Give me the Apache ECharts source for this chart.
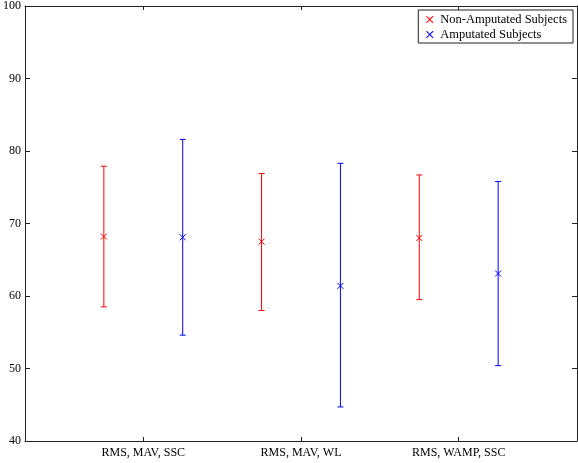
<!DOCTYPE html>
<html><head><meta charset="utf-8">
<script src="https://cdn.jsdelivr.net/npm/echarts@6/dist/echarts.min.js"></script>
<style>html,body{margin:0;padding:0;background:#fff}#c{width:578px;height:463px}</style>
</head><body><div id="c"></div>
<script>
var categories = ['RMS, MAV, SSC', 'RMS, MAV, WL', 'RMS, WAMP, SSC'];
var nonMean = [68.2, 67.5, 68.0];
var nonLow  = [58.5, 58.0, 59.5];
var nonHigh = [77.9, 76.9, 76.7];
var ampMean = [68.1, 61.4, 63.1];
var ampLow  = [54.6, 44.7, 50.4];
var ampHigh = [81.6, 78.3, 75.8];
var yTicks = [40, 50, 60, 70, 80, 90, 100];

var OFFSET = 0.25;
var XPATH = 'path://M0,0L1,0L5,4L9,0L10,0L10,1L6,5L10,9L10,10L9,10L5,6L1,10L0,10L0,9L4,5L0,1Z';
var FONT = 'Liberation Serif';

function build(mean, low, high, off) {
  return mean.map(function (m, i) { return [i + 1 + off, m, low[i], high[i]]; });
}

function errRender(color) {
  return function (params, api) {
    var x = api.value(0);
    var pm = api.coord([x, api.value(1)]);
    var pl = api.coord([x, api.value(2)]);
    var ph = api.coord([x, api.value(3)]);
    var cw = 3, mk = 3;
    var st = { stroke: color, lineWidth: 1 };
    return {
      type: 'group',
      children: [
        { type: 'line', shape: { x1: pl[0], y1: pl[1], x2: ph[0], y2: ph[1] }, style: st },
        { type: 'line', shape: { x1: pl[0] - cw, y1: pl[1], x2: pl[0] + cw, y2: pl[1] }, style: st },
        { type: 'line', shape: { x1: ph[0] - cw, y1: ph[1], x2: ph[0] + cw, y2: ph[1] }, style: st },
        { type: 'line', shape: { x1: pm[0] - mk, y1: pm[1] - mk, x2: pm[0] + mk, y2: pm[1] + mk }, style: st },
        { type: 'line', shape: { x1: pm[0] - mk, y1: pm[1] + mk, x2: pm[0] + mk, y2: pm[1] - mk }, style: st }
      ]
    };
  };
}

var chart = echarts.init(document.getElementById('c'), null, { renderer: 'canvas' });
var axisLine = { show: true, lineStyle: { color: '#222', width: 1 } };
var xCommon = {
  type: 'value', min: 0.25, max: 3.75, interval: 1,
  splitLine: { show: false }, axisLine: axisLine,
  axisTick: { show: true, inside: true, length: 4, lineStyle: { color: '#222' }, customValues: [1, 2, 3] }
};
var yCommon = {
  type: 'value', min: 40, max: 100, interval: 10,
  splitLine: { show: false }, axisLine: axisLine,
  axisTick: { show: true, inside: true, length: 5, lineStyle: { color: '#222' } }
};
chart.setOption({
  animation: false,
  backgroundColor: '#fff',
  grid: { left: 23, right: 1, top: 4, bottom: 22, containLabel: false },
  xAxis: [
    Object.assign({}, xCommon, {
      position: 'bottom',
      axisLabel: {
        show: true, fontFamily: FONT, fontSize: 12, color: '#000', margin: 6,
        customValues: [1, 2, 3],
        formatter: function (v) { return categories[Math.round(v) - 1] || ''; }
      }
    }),
    Object.assign({}, xCommon, { position: 'top', axisLabel: { show: false } })
  ],
  yAxis: [
    Object.assign({}, yCommon, {
      position: 'left',
      axisLabel: { show: true, fontFamily: FONT, fontSize: 12, color: '#000', margin: 4,
        formatter: function (v) { return yTicks.indexOf(v) >= 0 ? String(v) : ''; } }
    }),
    Object.assign({}, yCommon, { position: 'right', axisLabel: { show: false } })
  ],
  legend: {
    right: 5, top: 10, orient: 'vertical',
    backgroundColor: '#fff', borderColor: '#222', borderWidth: 1,
    padding: [3, 6, 2, 8], itemGap: 2, itemWidth: 7, itemHeight: 7,
    textStyle: { fontFamily: FONT, fontSize: 12.5, color: '#000', padding: [0, 0, 0, 2] },
    data: [
      { name: 'Non-Amputated Subjects', icon: XPATH, itemStyle: { color: 'red' } },
      { name: 'Amputated Subjects', icon: XPATH, itemStyle: { color: 'blue' } }
    ]
  },
  series: [
    { name: 'Non-Amputated Subjects', type: 'custom', color: 'red', xAxisIndex: 0, yAxisIndex: 0,
      renderItem: errRender('red'), encode: { x: 0, y: [1, 2, 3] },
      data: build(nonMean, nonLow, nonHigh, -OFFSET) },
    { name: 'Amputated Subjects', type: 'custom', color: 'blue', xAxisIndex: 0, yAxisIndex: 0,
      renderItem: errRender('blue'), encode: { x: 0, y: [1, 2, 3] },
      data: build(ampMean, ampLow, ampHigh, OFFSET) }
  ]
});
</script></body></html>
